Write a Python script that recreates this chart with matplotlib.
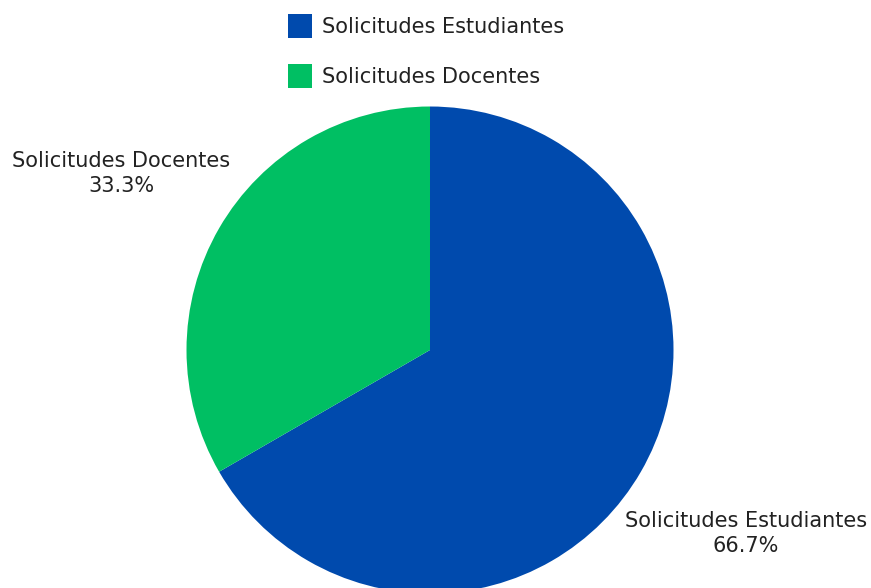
import matplotlib
matplotlib.use("Agg")
import matplotlib.pyplot as plt
import matplotlib.transforms as mtransforms
from matplotlib.patches import Patch

categories = ["Solicitudes Estudiantes", "Solicitudes Docentes"]
values = [2, 1]
colors = ["#004AAD", "#00BF63"]

W, H = 871, 588
fig = plt.figure(figsize=(W / 100, H / 100), dpi=100)

# pie centre and radius in pixels
cx, cy, r = 430, 350, 243.5
ax = fig.add_axes([(cx - r) / W, (H - cy - r) / H, 2 * r / W, 2 * r / H])
ax.set_aspect("equal")
ax.axis("off")

total = sum(values)
labels = [f"{c}\n{v / total * 100:.1f}%" for c, v in zip(categories, values)]

wedges, texts = ax.pie(values, colors=colors, startangle=90, counterclock=False,
                       labels=labels, labeldistance=1.48, radius=1,
                       textprops=dict(fontsize=15, color="#222222", linespacing=1.35))
# nudge labels a little right/down
shifted = mtransforms.offset_copy(ax.transData, fig=fig, x=3.5, y=-3.5, units="dots")
for t in texts:
    t.set_horizontalalignment("center")
    t.set_verticalalignment("center")
    t.set_transform(shifted)
ax.set_xlim(-1, 1)
ax.set_ylim(-1, 1)

handles = [Patch(facecolor=c, edgecolor="none") for c in colors]
fig.legend(handles, categories, loc="upper left",
           bbox_to_anchor=(288 / W, 1 - 14 / H), frameon=False, fontsize=15,
           borderpad=0, borderaxespad=0, handlelength=1.15, handleheight=1.39,
           handletextpad=0.48, labelspacing=1.25, labelcolor="#222222")

fig.savefig("out.png", dpi=100)
